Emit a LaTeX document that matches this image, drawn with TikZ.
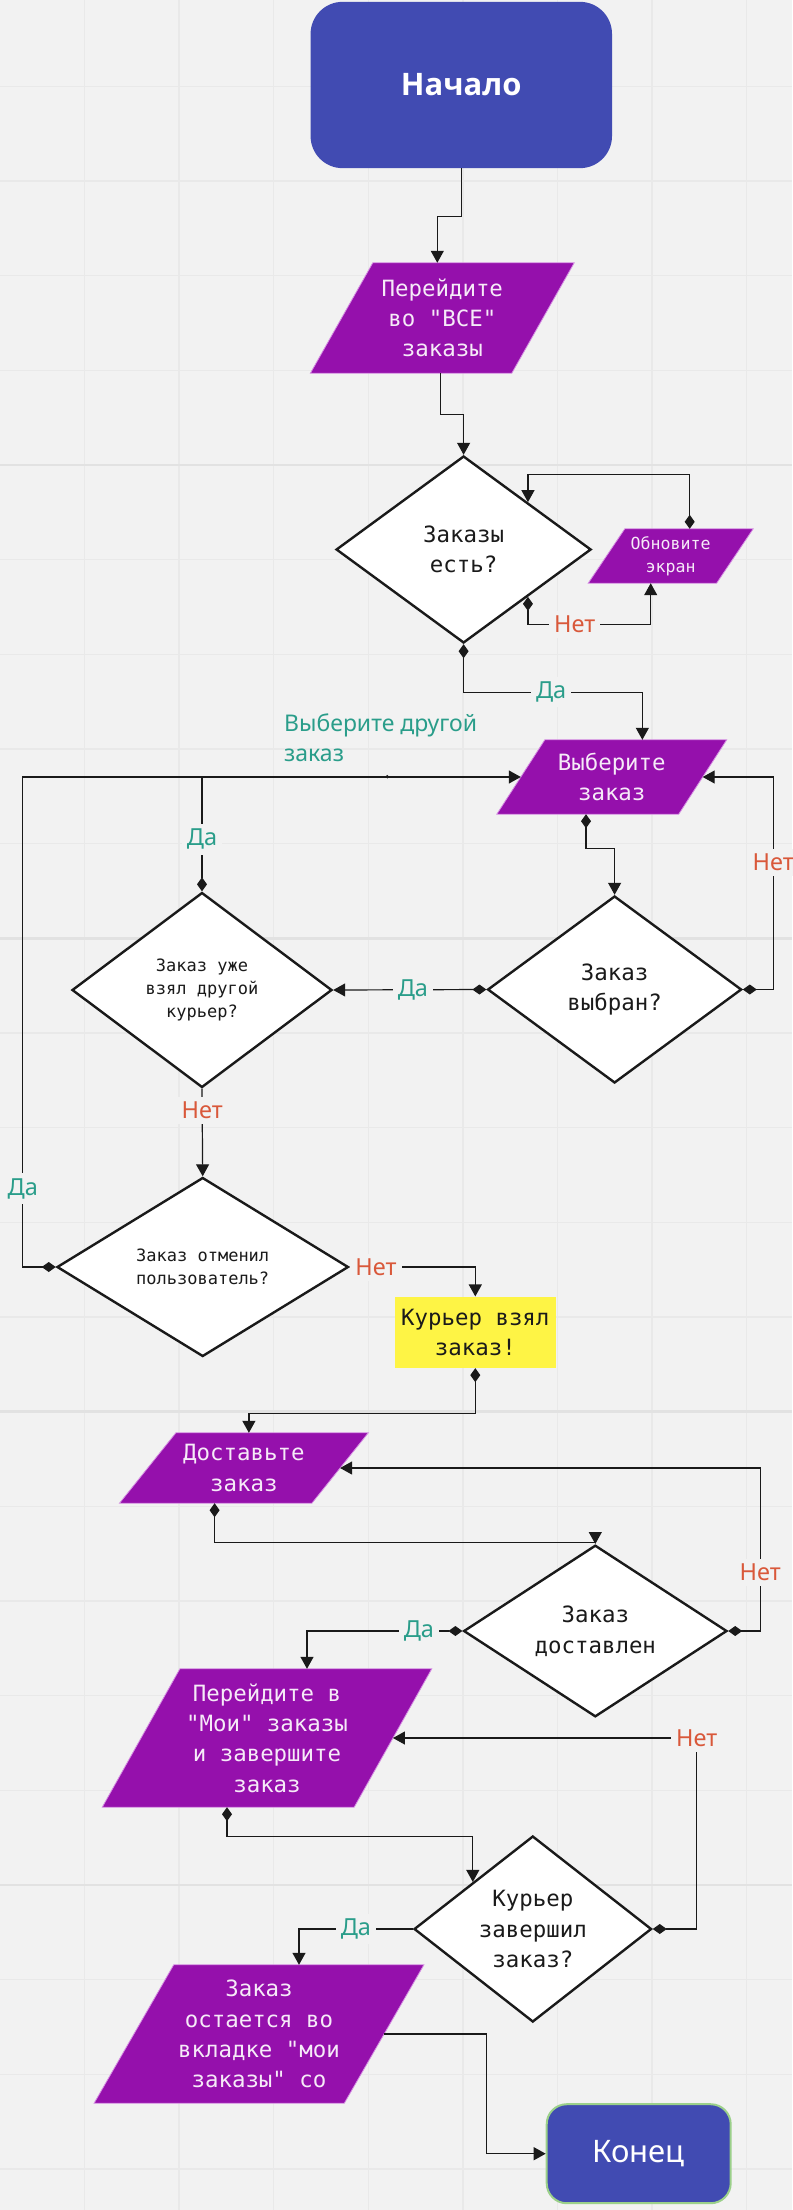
\documentclass[tikz,border=0pt]{standalone}
\usepackage{fontspec}
\setmainfont{Noto Sans}
\setmonofont{DejaVu Sans Mono}
\newfontfamily\headfont{Open Sans}
\usetikzlibrary{shapes.geometric,arrows.meta,backgrounds}
\definecolor{bg}{HTML}{F2F2F2}
\definecolor{gridc}{HTML}{E9E9E9}
\definecolor{gridm}{HTML}{E2E2E2}
\definecolor{blueb}{HTML}{414BB2}
\definecolor{purp}{HTML}{9510AC}
\definecolor{purpedge}{HTML}{D58EE2}
\definecolor{yel}{HTML}{FEF445}
\definecolor{dacol}{HTML}{2A9D8A}
\definecolor{netcol}{HTML}{D9583A}
\definecolor{ptext}{HTML}{F6EAF8}
\definecolor{greenb}{HTML}{9BD08A}
\definecolor{ink}{HTML}{1A1A1A}
\newcommand\parafill[2]{\fill[purp, draw=purpedge, line width=0.8pt] ([xshift=#2]#1.north west) -- ([xshift=#2]#1.north east) -- ([xshift=-#2]#1.south east) -- ([xshift=-#2]#1.south west) -- cycle;}
\tikzset{
  startend/.style={rectangle, rounded corners=#1, fill=blueb, text=white, inner sep=0pt},
  decision/.style={diamond, draw=ink, line width=2.4pt, fill=white, inner sep=0pt, text=ink, align=center, font=\ttfamily\fontsize{22.4}{30.5}\selectfont},
  smalltext/.style={font=\ttfamily\fontsize{17}{23.2}\selectfont},
  parabox/.style={rectangle, inner sep=0pt, text=ptext, align=center, font=\ttfamily\fontsize{22.4}{30.3}\selectfont},
  conn/.style={draw=ink, line width=1.2pt, -{Triangle[length=12pt,width=13pt]}},
  tailed/.style={{Diamond[length=14pt,width=10pt]}-{Triangle[length=12pt,width=13pt]}},
  lbl/.style={fill=bg, inner sep=5pt, font=\fontsize{23.5}{27}\selectfont},
  da/.style={lbl, text=dacol},
  net/.style={lbl, text=netcol},
}
\begin{document}
\begin{tikzpicture}[x=1pt, y=-1pt]
\useasboundingbox (0,0) rectangle (792,2210);

% terminals
\node[startend=32pt, minimum width=301.4pt, minimum height=166.3pt, font=\headfont\bfseries\fontsize{31}{36}\selectfont] (start) at (461.3,85) {Начало};
\node[startend=20pt, draw=greenb, line width=2pt, minimum width=184pt, minimum height=99pt, font=\fontsize{31}{36}\selectfont] (end) at (638.7,2153.7) {Конец};

% input/output parallelograms (filled on background layer)
\node[parabox, minimum width=201pt, minimum height=110pt] (p1) at (442.3,318) {Перейдите\\во "ВСЕ"\\заказы};
\node[parabox, minimum width=128pt, minimum height=54pt, font=\ttfamily\fontsize{16.6}{23}\selectfont] (p2) at (670.7,556) {Обновите\\экран};
\node[parabox, minimum width=181.5pt, minimum height=74pt] (p3) at (611.75,777) {Выберите\\заказ};
\node[parabox, minimum width=192pt, minimum height=70pt] (p4) at (243.9,1468) {Доставьте\\заказ};
\node[parabox, minimum width=251.5pt, minimum height=138pt] (p5) at (267,1738) {Перейдите в\\"Мои" заказы\\и завершите\\заказ};
\node[parabox, minimum width=249.8pt, minimum height=138pt] (p6) at (259,2034) {Заказ\\остается во\\вкладке "мои\\заказы" со};

% process
\node[rectangle, fill=yel, minimum width=160.6pt, minimum height=71.3pt, inner sep=0pt, text=ink, align=center, font=\ttfamily\fontsize{22.4}{29.7}\selectfont] (taken) at (475.3,1332.3) {Курьер взял\\заказ!};

% decisions
\node[decision, minimum width=255pt, minimum height=187pt] (d1) at (463.6,549.5) {Заказы\\есть?};
\node[decision, minimum width=254pt, minimum height=187pt] (d2) at (614.6,989.5) {Заказ\\выбран?};
\node[decision, smalltext, minimum width=260pt, minimum height=195pt] (d3) at (202,990) {Заказ уже\\взял другой\\курьер?};
\node[decision, smalltext, minimum width=291.5pt, minimum height=179pt] (d4) at (202.7,1267) {Заказ отменил\\пользователь?};
\node[decision, minimum width=263.4pt, minimum height=136pt] (d5) at (595.3,1631) {Заказ\\доставлен};
\node[decision, minimum width=237.5pt, minimum height=186pt] (d6) at (532.8,1929) {Курьер\\завершил\\заказ?};

% free text
\node[text=dacol, align=left, anchor=west, inner sep=0pt, font=\fontsize{23}{30}\selectfont] (other) at (284,738) {Выберите другой\\заказ};

% connectors
\draw[conn] (start.south) -- ++(0,48) -| ([xshift=-5pt]p1.north);
\draw[conn] ([xshift=-2pt]p1.south) -- ++(0,41) -| (d1.north);
\draw[conn, tailed] ([xshift=19pt]p2.north) -- ++(0,-54) -| (d1.north east);
\draw[conn, tailed] (d1.south east) -- ++(0,27.5) -| node[net, pos=0.19]{Нет} ([xshift=-20pt]p2.south);
\draw[conn, tailed] (d1.south) -- ++(0,48) -| node[da, pos=0.245]{Да} ([xshift=30.6pt]p3.north);
\draw[conn, tailed] (d4.west) -- ++(-33,0) |- node[da, pos=0.08]{Да} (p3.west);
\draw[draw=ink, line width=1.2pt, {Diamond[length=14pt,width=10pt]}-] (d3.north) -- node[da, pos=0.455]{Да} (d3.north |- p3.west);
\fill[ink] (387.3,776.7) circle (1.8pt);
\draw[conn, tailed] ([xshift=-25.75pt]p3.south) -- ++(0,34) -| (d2.north);
\draw[conn, tailed] (d2.east) -- ++(30.3,0) |- node[net, pos=0.3]{Нет} (p3.east);
\draw[conn, tailed] (d2.west) -- node[da, pos=0.48]{Да} (d3.east);
\draw[conn] (d3.south) -- node[net, pos=0.25]{Нет} (d4.north);
\draw[conn] (d4.east) -| node[net, pos=0.105]{Нет} (taken.north);
\draw[conn, tailed] (taken.south) -- ++(0,45.3) -| ([xshift=5pt]p4.north);
\draw[conn, tailed] (d5.east) -- ++(32,0) |- node[net, pos=0.18]{Нет} (p4.east);
\draw[conn, tailed] ([xshift=-29.3pt]p4.south) -- ++(0,39) -| (d5.north);
\draw[conn, tailed] (d5.west) -| node[da, pos=0.14]{Да} ([xshift=40pt]p5.north);
\draw[conn, tailed] (d6.east) -- ++(44,0) |- node[net, pos=0.5]{Нет} (p5.east);
\draw[conn, tailed] ([xshift=-40pt]p5.south) -- ++(0,29) -| (d6.north west);
\draw[conn] (d6.west) -| node[da, pos=0.25]{Да} ([xshift=40pt]p6.north);
\draw[conn] (p6.east) -- ++(102,0) |- (end.west);

\begin{scope}[on background layer]
  \fill[bg] (0,0) rectangle (792,2210);
  \foreach \i in {0,...,7} \draw[gridc, line width=1.5pt] ({84.5+94.6*\i},0) -- ({84.5+94.6*\i},2210);
  \foreach \j in {0,...,22} \draw[gridc, line width=1.5pt] (0,{86.3+94.67*\j}) -- (792,{86.3+94.67*\j});
  \foreach \yy in {465,938.3,1411.7,1885} \draw[gridm, line width=2.5pt] (0,\yy) -- (792,\yy);
  \parafill{p1}{31.2pt}
  \parafill{p2}{18.3pt}
  \parafill{p3}{24pt}
  \parafill{p4}{28.2pt}
  \parafill{p5}{38.8pt}
  \parafill{p6}{39.8pt}
\end{scope}
\end{tikzpicture}
\end{document}
